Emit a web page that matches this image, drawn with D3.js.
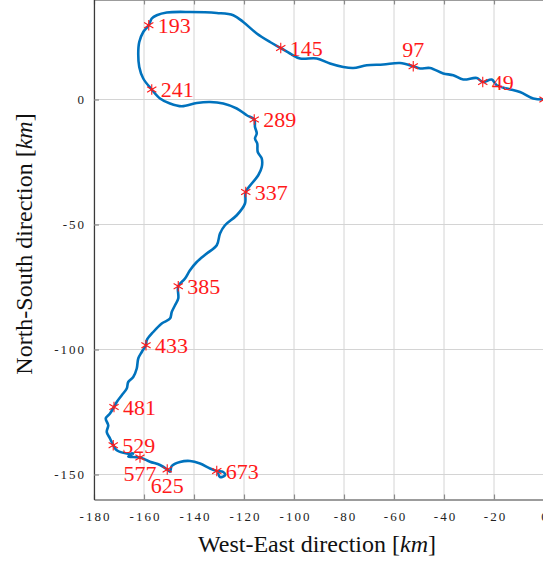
<!DOCTYPE html>
<html>
<head>
<meta charset="utf-8">
<script src="https://cdn.jsdelivr.net/npm/d3@7.9.0/dist/d3.min.js"></script>
<style>
  body { margin: 0; background: #fff; }
  svg { display: block; font-family: "Liberation Serif", "Times New Roman", serif; }
</style>
</head>
<body>
<svg id="chart" width="543" height="561"></svg>
<script>
// track of the drifter, km east / km north of the start point
const eastKm = [
  0, -4.3, -9.6, -14.9, -18.9, -20.9, -24.5, -26.9, -32.3, -36.3, -40.3, -45.6, -49.6, -52.3,
  -57.6, -64.3, -70.9, -76.3, -80.3, -85.6, -90.9, -97.6, -101.6, -105.3, -109.6, -114.9,
  -120.3, -124.3, -130.9, -141.6, -150.9, -154.9, -156.9, -158.1, -160.3, -161.9, -162.3,
  -161.9, -160.3, -156.9, -153.6, -149.6, -144.9, -138.9, -133.6, -128.3, -122.9, -118.9,
  -115.9, -115.6, -114.9, -115.6, -114.7, -114.5, -112.9, -112.9, -114.3, -116.9, -119.3,
  -119.6, -122.9, -127.6, -129.6, -130.9, -134.9, -138.9, -141.6, -143.6, -146.3, -146.3,
  -147.6, -148.9, -149.6, -152.9, -156.3, -158.9, -159.2, -160.9, -162.3, -162.9, -164.3,
  -166.3, -166.9, -168.9, -170.9, -172.0, -173.6, -175.3, -174.3, -174.9, -173.6, -172.3,
  -170.9, -166.9, -164.3, -166.3, -161.6, -157.6, -153.6, -150.7, -149.6, -148.9, -145.6,
  -141.6, -137.6, -133.6, -130.9, -128.3, -127.6, -129.6, -130.3
];
const northKm = [
  0, 0.4, 3.0, 4.4, 5.7, 8.0, 7.0, 8.6, 8.0, 9.7, 10.4, 12.6, 12.4, 13.3,
  14.6, 14.0, 13.7, 12.6, 13.0, 14.4, 16.4, 16.4, 18.4, 20.6, 23.0, 26.4,
  31.0, 33.7, 34.6, 35.0, 34.8, 33.7, 32.4, 29.7, 27.0, 23.0, 18.4,
  13.0, 8.4, 4.0, 0.4, -1.6, -2.7, -1.4, -1.0, -1.6, -3.6, -6.3,
  -8.0, -11.0, -13.6, -15.6, -17.6, -21.0, -23.6, -27.0, -30.3, -33.6, -37.0,
  -41.6, -46.3, -50.3, -53.6, -58.3, -61.6, -65.0, -68.3, -71.6, -74.7, -79.6,
  -82.3, -85.0, -87.6, -89.6, -93.0, -96.3, -98.3, -101.0, -103.6, -107.6, -111.0,
  -113.0, -115.6, -118.3, -121.0, -123.0, -125.6, -127.6, -130.3, -133.0, -135.6, -138.3,
  -140.3, -141.6, -141.6, -142.8, -143.2, -144.9, -146.2, -148.0, -148.9, -146.6, -145.0,
  -144.6, -145.6, -147.6, -148.6, -149.0, -150.3, -151.0, -149.6
];

// sample markers every 48 records
const markerLabels = ['', '49', '97', '145', '193', '241', '289', '337', '385', '433', '481', '529', '577', '625', '673'];
const markerEast = [0, -24.5, -52.3, -105.3, -158.1, -156.9, -115.9, -119.3, -146.3, -159.2, -172.0, -172.3, -161.6, -150.7, -130.9];
const markerNorth = [0, 7.0, 13.3, 20.6, 29.7, 4.0, -8.0, -37.0, -74.7, -98.3, -123.0, -138.3, -143.2, -148.0, -148.6];

const xTicks = [-180, -160, -140, -120, -100, -80, -60, -40, -20, 0];
const yTicks = [0, -50, -100, -150];

const svg = d3.select('#chart');
const x = d3.scaleLinear().domain([-180, 0]).range([94, 544]);
const y = d3.scaleLinear().domain([-160, 40]).range([499.5, -0.5]);

// grid
const grid = svg.append('g').attr('stroke', '#d4d4d4').attr('stroke-width', 1);
xTicks.forEach((t) => {
  grid.append('line')
    .attr('x1', x(t)).attr('x2', x(t))
    .attr('y1', y(-160)).attr('y2', y(40));
});
yTicks.forEach((t) => {
  grid.append('line')
    .attr('x1', x(-180)).attr('x2', x(0))
    .attr('y1', y(t)).attr('y2', y(t));
});

// axes, ticks pointing inwards
const fmt = (d) => String(d);
const xAxis = svg.append('g')
  .attr('transform', `translate(0,${y(-160)})`)
  .call(d3.axisBottom(x).tickValues(xTicks).tickSizeInner(-5).tickSizeOuter(0).tickPadding(12).tickFormat(fmt));
const xTop = svg.append('g')
  .attr('transform', `translate(0,${y(40)})`)
  .call(d3.axisTop(x).tickValues(xTicks).tickSizeInner(-5).tickSizeOuter(0).tickFormat(''));
const yAxis = svg.append('g')
  .attr('transform', `translate(${x(-180)},0)`)
  .call(d3.axisLeft(y).tickValues(yTicks).tickSizeInner(-5).tickSizeOuter(0).tickPadding(10).tickFormat(fmt));

[xAxis, xTop, yAxis].forEach((g) => {
  g.select('.domain').attr('stroke', '#3a3a3a').attr('stroke-width', 1.2);
  g.selectAll('.tick line').attr('stroke', '#8a8a8a').attr('stroke-width', 1.2);
  g.selectAll('.tick text')
    .attr('fill', '#222')
    .style('font-family', '"Liberation Serif", serif')
    .style('font-size', '13px')
    .style('letter-spacing', '2px');
});
xAxis.selectAll('.tick text').attr('dx', '1px');
yAxis.selectAll('.tick text').attr('dx', '2px');

// track
const line = d3.line()
  .x((_, i) => x(eastKm[i]))
  .y((_, i) => y(northKm[i]))
  .curve(d3.curveCatmullRom.alpha(0.5));

svg.append('path')
  .attr('d', line(eastKm))
  .attr('fill', 'none')
  .attr('stroke', '#0072BD')
  .attr('stroke-width', 2.6)
  .attr('stroke-linejoin', 'round')
  .attr('stroke-linecap', 'round');

// markers
const star = d3.symbol(d3.symbolAsterisk, 80);
const above = ['97'];
const below = ['577', '625'];

markerLabels.forEach((lab, i) => {
  const px = x(markerEast[i]);
  const py = y(markerNorth[i]);
  svg.append('path')
    .attr('d', star())
    .attr('transform', `translate(${px},${py})`)
    .attr('fill', 'none')
    .attr('stroke', '#ff1a1a')
    .attr('stroke-width', 1.1);

  if (!lab) return;
  const t = svg.append('text')
    .text(lab)
    .attr('fill', '#ff1a1a')
    .style('font-size', '22px');
  if (above.includes(lab)) {
    t.attr('x', px).attr('y', py - 9).attr('text-anchor', 'middle');
  } else if (below.includes(lab)) {
    t.attr('x', px).attr('y', py + 23).attr('text-anchor', 'middle');
  } else {
    t.attr('x', px + 9).attr('y', py + 7.5);
  }
});

// axis titles
const xTitle = svg.append('text')
  .attr('x', 317).attr('y', 552)
  .attr('text-anchor', 'middle')
  .attr('fill', '#111')
  .style('font-size', '24px');
xTitle.append('tspan').text('West-East direction [');
xTitle.append('tspan').text('km').style('font-style', 'italic');
xTitle.append('tspan').text(']');

const yTitle = svg.append('text')
  .attr('transform', 'translate(32,244) rotate(-90)')
  .attr('text-anchor', 'middle')
  .attr('fill', '#111')
  .style('font-size', '24px');
yTitle.append('tspan').text('North-South direction [');
yTitle.append('tspan').text('km').style('font-style', 'italic');
yTitle.append('tspan').text(']');
</script>
</body>
</html>
